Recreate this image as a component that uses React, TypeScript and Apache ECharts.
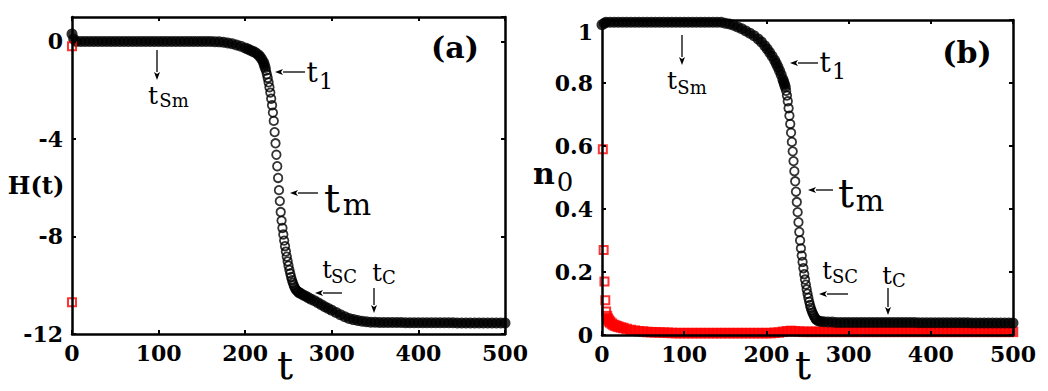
import React, { useEffect, useRef } from "react";
import * as echarts from "echarts";

const FONT = "DejaVu Serif";

// ---------- axis ranges ----------
const T_MIN = 0, T_MAX = 500, T_STEP = 100;
const H_MIN = -12, H_MAX = 1, H_STEP = 4;
const N_MIN = 0, N_MAX = 1, N_STEP = 0.2;

// ---------- panel (a): H(t) ----------
// plateau before the drop (sampled; markers overlap into a solid band)
const hStart: [number, number][] = [
  [0, 0.3], [2, 0.1], [5, 0], [10, 0], [15, 0], [20, 0], [25, 0], [30, 0], [35, 0], [40, 0],
  [45, 0], [50, 0], [55, 0], [60, 0], [65, 0], [70, 0], [75, 0], [80, 0], [85, 0], [90, 0],
  [95, 0], [100, 0], [105, 0], [110, 0], [115, 0], [120, 0], [125, 0], [130, 0], [135, 0],
  [140, 0], [145, 0], [150, 0], [155, 0], [160, 0], [165, -0.01], [170, -0.02], [175, -0.04],
  [180, -0.07], [185, -0.1], [190, -0.15], [195, -0.2], [200, -0.27], [203, -0.31], [206, -0.36],
  [209, -0.41], [212, -0.47], [215, -0.55], [217, -0.62], [219, -0.72], [221, -0.85], [222, -0.95],
  [223, -1.07],
];
// the drop, one value per time step starting at t = 224
const hDropT0 = 224;
const hDrop = [
  -1.2, -1.35, -1.5, -1.68, -1.88, -2.1, -2.35, -2.62, -2.92, -3.26, -3.72, -4.18, -4.65,
  -5.12, -5.6, -6.1, -6.55, -7.0, -7.35, -7.65, -7.92, -8.17, -8.4, -8.62, -8.83, -9.02,
  -9.2, -9.37, -9.52, -9.66, -9.79, -9.9, -10.0, -10.08, -10.15, -10.2, -10.24, -10.27,
];
// tail after the drop
const hEnd: [number, number][] = [
  [262, -10.3], [264, -10.34], [267, -10.4], [270, -10.45], [273, -10.51], [276, -10.57],
  [280, -10.64], [284, -10.72], [288, -10.8], [292, -10.88], [296, -10.95], [300, -11.03],
  [305, -11.12], [310, -11.21], [315, -11.29], [320, -11.36], [325, -11.41], [330, -11.45],
  [335, -11.48], [340, -11.5], [345, -11.52], [350, -11.52], [355, -11.53], [360, -11.53],
  [365, -11.53], [370, -11.53], [375, -11.53], [380, -11.53], [385, -11.54], [390, -11.54],
  [395, -11.54], [400, -11.54], [405, -11.54], [410, -11.54], [415, -11.54], [420, -11.54],
  [425, -11.54], [430, -11.54], [435, -11.54], [440, -11.54], [445, -11.55], [450, -11.55],
  [455, -11.55], [460, -11.55], [465, -11.55], [470, -11.55], [475, -11.55], [480, -11.55],
  [485, -11.55], [490, -11.55], [495, -11.55], [500, -11.55],
];
const hRed: [number, number][] = [[0, -0.2], [0, -10.7]];

// ---------- panel (b): n0(t) ----------
const nStart: [number, number][] = [
  [0, 0.985], [3, 0.99], [5, 0.993], [10, 0.993], [15, 0.993], [20, 0.993], [25, 0.993],
  [30, 0.993], [35, 0.993], [40, 0.993], [45, 0.993], [50, 0.993], [55, 0.993], [60, 0.993],
  [65, 0.993], [70, 0.993], [75, 0.993], [80, 0.993], [85, 0.993], [90, 0.993], [95, 0.993],
  [100, 0.993], [105, 0.993], [110, 0.993], [115, 0.993], [120, 0.993], [125, 0.993],
  [130, 0.993], [135, 0.993], [140, 0.993], [145, 0.993], [150, 0.99], [155, 0.987],
  [160, 0.983], [165, 0.978], [170, 0.972], [175, 0.965], [180, 0.958], [185, 0.95],
  [190, 0.94], [194, 0.93], [198, 0.918], [201, 0.908], [204, 0.897], [207, 0.885],
  [210, 0.872], [212, 0.862], [214, 0.851], [216, 0.839], [218, 0.826], [220, 0.812],
  [221, 0.804], [222, 0.796], [223, 0.787],
];
const nDropT0 = 224;
const nDrop = [
  0.775, 0.76, 0.742, 0.72, 0.696, 0.67, 0.642, 0.613, 0.583, 0.552, 0.52, 0.488, 0.455,
  0.422, 0.39, 0.358, 0.327, 0.3, 0.275, 0.252, 0.232, 0.212, 0.193, 0.176, 0.16, 0.145,
  0.131, 0.118, 0.106, 0.095, 0.086, 0.078, 0.071, 0.065, 0.06, 0.055, 0.051, 0.048,
];
const nEnd: [number, number][] = [
  [263, 0.045], [266, 0.043], [270, 0.042], [275, 0.041], [280, 0.041], [285, 0.04],
  [290, 0.04], [295, 0.04], [300, 0.04], [305, 0.04], [310, 0.04], [315, 0.04], [320, 0.04],
  [325, 0.04], [330, 0.04], [335, 0.04], [340, 0.04], [345, 0.04], [350, 0.04], [355, 0.04],
  [360, 0.04], [365, 0.04], [370, 0.04], [375, 0.04], [380, 0.04], [385, 0.039], [390, 0.039],
  [395, 0.039], [400, 0.039], [405, 0.039], [410, 0.039], [415, 0.039], [420, 0.039],
  [425, 0.039], [430, 0.039], [435, 0.039], [440, 0.039], [445, 0.039], [450, 0.038],
  [455, 0.038], [460, 0.038], [465, 0.038], [470, 0.038], [475, 0.038], [480, 0.038],
  [485, 0.038], [490, 0.038], [495, 0.038], [500, 0.038],
];
// red squares: first few isolated, then a dense band near zero
const rStartT0 = 1;
const rStart = [0.59, 0.27, 0.17, 0.11, 0.075];
const rBand: [number, number][] = [
  [6, 0.06], [7, 0.052], [8, 0.047], [9, 0.043], [10, 0.04], [12, 0.036], [14, 0.032],
  [16, 0.03], [18, 0.028], [20, 0.026], [23, 0.024], [26, 0.022], [30, 0.019], [35, 0.016],
  [40, 0.014], [45, 0.012], [50, 0.011], [55, 0.0095], [60, 0.009], [65, 0.0085], [70, 0.008],
  [75, 0.0075], [80, 0.007], [85, 0.0065], [90, 0.006], [95, 0.006], [100, 0.006], [105, 0.006],
  [110, 0.006], [115, 0.006], [120, 0.006], [125, 0.006], [130, 0.006], [135, 0.006],
  [140, 0.006], [145, 0.006], [150, 0.006], [155, 0.006], [160, 0.006], [165, 0.006],
  [170, 0.006], [175, 0.006], [180, 0.006], [185, 0.006], [190, 0.006], [195, 0.006],
  [200, 0.006], [205, 0.006], [210, 0.007], [215, 0.008], [220, 0.01], [225, 0.012],
  [230, 0.013], [235, 0.012], [240, 0.011], [245, 0.01], [250, 0.01], [255, 0.01], [260, 0.01],
  [265, 0.01], [270, 0.01], [275, 0.01], [280, 0.01], [285, 0.01], [290, 0.01], [295, 0.01],
  [300, 0.01], [305, 0.01], [310, 0.01], [315, 0.01], [320, 0.01], [325, 0.01], [330, 0.01],
  [335, 0.01], [340, 0.01], [345, 0.01], [350, 0.01], [355, 0.01], [360, 0.01], [365, 0.01],
  [370, 0.01], [375, 0.01], [380, 0.01], [385, 0.01], [390, 0.01], [395, 0.01], [400, 0.01],
  [405, 0.01], [410, 0.01], [415, 0.01], [420, 0.01], [425, 0.01], [430, 0.01], [435, 0.01],
  [440, 0.01], [445, 0.01], [450, 0.01], [455, 0.01], [460, 0.01], [465, 0.01], [470, 0.01],
  [475, 0.01], [480, 0.01], [485, 0.01], [490, 0.01], [495, 0.01], [500, 0.01],
];

// ---------- annotations (pixel layout) ----------
const arrowList: number[][] = [
  [157, 50, 157, 80], [305, 72, 275, 72], [318, 193, 290, 193], [342, 293, 315, 293], [374, 288, 374, 313],
  [682, 35, 682, 65], [818, 63, 790, 63], [833, 190, 808, 190], [848, 294, 819, 294], [888, 288, 888, 315],
];
type Lbl = { x: number; y: number; t: string; s: number; w?: string; a?: string };
const labelList: Lbl[] = [
  // panel (a)
  { x: 153, y: 95, t: "t", s: 25 }, { x: 174, y: 100, t: "Sm", s: 18 },
  { x: 312, y: 72, t: "t", s: 28 }, { x: 326, y: 81, t: "1", s: 22 },
  { x: 332, y: 198, t: "t", s: 40 }, { x: 357, y: 204, t: "m", s: 30 },
  { x: 327, y: 270, t: "t", s: 24 }, { x: 344, y: 276, t: "SC", s: 18 },
  { x: 377, y: 273, t: "t", s: 24 }, { x: 389, y: 277, t: "C", s: 18 },
  { x: 285, y: 365, t: "t", s: 40 },
  { x: 36, y: 185, t: "H(t)", s: 24, w: "bold" },
  { x: 455, y: 47, t: "(a)", s: 30, w: "bold" },
  // panel (b)
  { x: 672, y: 80, t: "t", s: 25 }, { x: 692, y: 87, t: "Sm", s: 18 },
  { x: 825, y: 62, t: "t", s: 28 }, { x: 839, y: 71, t: "1", s: 22 },
  { x: 846, y: 193, t: "t", s: 40 }, { x: 870, y: 200, t: "m", s: 30 },
  { x: 827, y: 271, t: "t", s: 24 }, { x: 845, y: 276, t: "SC", s: 18 },
  { x: 887, y: 276, t: "t", s: 24 }, { x: 899, y: 280, t: "C", s: 18 },
  { x: 803, y: 365, t: "t", s: 40 },
  { x: 544, y: 173, t: "n", s: 30, w: "bold" }, { x: 565, y: 182, t: "0", s: 26 },
  { x: 967, y: 52, t: "(b)", s: 30, w: "bold" },
  { x: 593, y: 32, t: "1", s: 22, w: "bold", a: "right" },
];

function arrowGraphic(p: number[]) {
  const [x1, y1, x2, y2] = p;
  const dx = x2 - x1, dy = y2 - y1;
  const len = Math.hypot(dx, dy);
  const ux = dx / len, uy = dy / len;
  const nx = -uy, ny = ux;
  const L = 8, W = 3;
  const bx = x2 - ux * L, by = y2 - uy * L;
  return [
    { type: "line", shape: { x1, y1, x2: bx, y2: by }, style: { stroke: "#000", lineWidth: 1.3 }, z: 100 },
    {
      type: "polygon",
      shape: { points: [[x2, y2], [bx + nx * W, by + ny * W], [bx + ux * 2, by + uy * 2], [bx - nx * W, by - ny * W]] },
      style: { fill: "#000" },
      z: 100,
    },
  ];
}

function textGraphic(l: Lbl) {
  const al = l.a || "center";
  return {
    type: "text",
    x: l.x,
    y: l.y,
    z: 100,
    style: {
      text: l.t,
      fontFamily: FONT,
      fontSize: l.s,
      fontWeight: l.w || "normal",
      fill: "#000",
      align: al,
      textAlign: al,
      verticalAlign: "middle",
      textVerticalAlign: "middle",
    },
  };
}

const AXIS_LINE = { onZero: false, lineStyle: { color: "#000", width: 2.5 } };
const AXIS_TICK = { inside: true, length: 4, lineStyle: { color: "#000", width: 2 } };
const LABEL = { color: "#000", fontFamily: FONT, fontWeight: "bold", fontSize: 22 };

function xAxisFor(grid: number, position: string, labels: boolean) {
  return {
    type: "value", gridIndex: grid, position, min: T_MIN, max: T_MAX, interval: T_STEP,
    axisLine: AXIS_LINE, axisTick: AXIS_TICK, splitLine: { show: false }, z: 10,
    axisLabel: labels ? { ...LABEL, margin: 8 } : { show: false },
  };
}
function yAxisFor(grid: number, position: string, labels: boolean, min: number, max: number, step: number, fmt?: any) {
  return {
    type: "value", gridIndex: grid, position, min, max, interval: step,
    axisLine: AXIS_LINE, axisTick: AXIS_TICK, splitLine: { show: false }, z: 10,
    axisLabel: labels ? { ...LABEL, margin: 9, formatter: fmt } : { show: false },
  };
}

const filledBlack = { symbol: "circle", symbolSize: 11, itemStyle: { color: "#000" } };
const hollowBlack = { symbol: "circle", symbolSize: 8.5, itemStyle: { color: "rgba(0,0,0,0)", borderColor: "#000", borderWidth: 1.8 } };
const hollowRed = { symbol: "rect", symbolSize: 8, itemStyle: { color: "rgba(0,0,0,0)", borderColor: "#f00", borderWidth: 2 } };
const filledRed = { symbol: "rect", symbolSize: 10.5, itemStyle: { color: "#f00" } };

function scatter(x: number, y: number, data: any[], style: any) {
  return {
    type: "scatter", xAxisIndex: x, yAxisIndex: y, data, clip: false, silent: true,
    emphasis: { disabled: true }, ...style,
  };
}

export default function App() {
  const ref = useRef<HTMLDivElement>(null);
  useEffect(() => {
    if (!ref.current) return;
    const chart = echarts.init(ref.current, undefined, { renderer: "svg" });
    const hDropData = hDrop.map((v, i) => [hDropT0 + i, v]);
    const nDropData = nDrop.map((v, i) => [nDropT0 + i, v]);
    const rStartData = rStart.map((v, i) => [rStartT0 + i, v]);
    const graphic: any[] = [];
    arrowList.forEach((a) => graphic.push(...arrowGraphic(a)));
    labelList.forEach((l) => graphic.push(textGraphic(l)));
    chart.setOption({
      animation: false,
      backgroundColor: "#fff",
      grid: [
        { left: 72, top: 17, width: 433, height: 317 },
        { left: 602, top: 20, width: 411, height: 315 },
      ],
      xAxis: [
        xAxisFor(0, "bottom", true), xAxisFor(0, "top", false),
        xAxisFor(1, "bottom", true), xAxisFor(1, "top", false),
      ],
      yAxis: [
        { ...yAxisFor(0, "left", true, H_MIN, H_MAX, H_STEP), axisLabel: { ...LABEL, margin: 9, showMaxLabel: false } },
        yAxisFor(0, "right", false, H_MIN, H_MAX, H_STEP),
        yAxisFor(1, "left", true, N_MIN, N_MAX, N_STEP, (v: number) => (v === 1 ? "" : String(+v.toFixed(1)))),
        yAxisFor(1, "right", false, N_MIN, N_MAX, N_STEP),
      ],
      series: [
        scatter(0, 0, hStart, filledBlack),
        scatter(0, 0, hDropData, hollowBlack),
        scatter(0, 0, hEnd, filledBlack),
        scatter(0, 0, hRed, hollowRed),
        scatter(2, 2, rBand, filledRed),
        scatter(2, 2, rStartData, hollowRed),
        scatter(2, 2, nStart, filledBlack),
        scatter(2, 2, nDropData, hollowBlack),
        scatter(2, 2, nEnd, filledBlack),
      ],
      graphic,
    });
    return () => chart.dispose();
  }, []);
  return (
    <div
      ref={ref}
      style={{ position: "absolute", left: 0, top: 0, width: 1048, height: 391, background: "#fff" }}
    />
  );
}
